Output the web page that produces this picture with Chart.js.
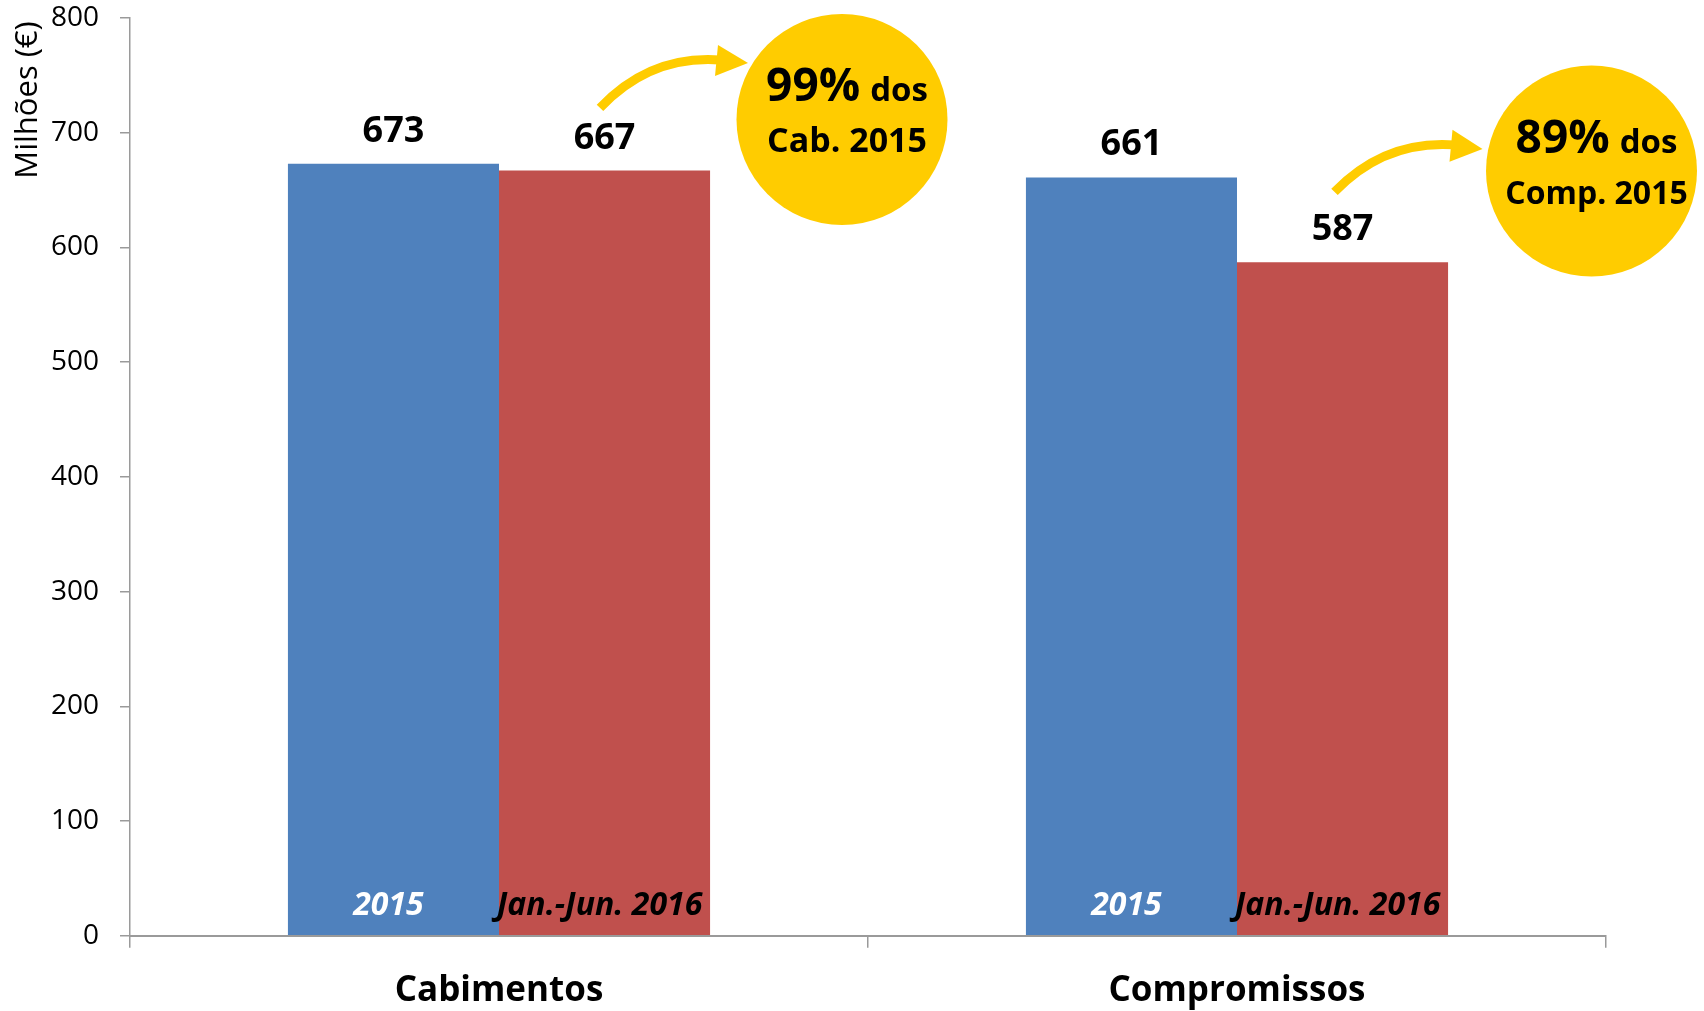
<!DOCTYPE html>
<html>
<head>
<meta charset="utf-8">
<script src="https://cdn.jsdelivr.net/npm/chart.js@4.4.1/dist/chart.umd.min.js"></script>
<style>
html,body{margin:0;padding:0;background:#ffffff;}
#wrap{width:1704px;height:1011px;position:relative;}
</style>
</head>
<body>
<div id="wrap"><canvas id="c" width="1704" height="1011"></canvas></div>
<script>
// ---- Data ----
const categories = ['Cabimentos', 'Compromissos'];
const seriesNames = ['2015', 'Jan.-Jun. 2016'];
const values2015 = [673, 661];
const valuesJanJun2016 = [667, 587];
const yTickValues = [0, 100, 200, 300, 400, 500, 600, 700, 800];
const yAxisTitle = 'Milhões (€)';
const calloutPercent = ['99%', '89%'];
const calloutWord = ['dos', 'dos'];
const calloutRef = ['Cab. 2015', 'Comp. 2015'];

// ---- Styles ----
const FONT = '"Open Sans", "Liberation Sans", sans-serif';
const BLUE = '#4F81BD';
const RED = '#C0504D';
const YELLOW = '#FFCC00';
const AXIS = '#9A9A9A';

// annotation geometry (offset in px from category centre, y in axis units)
const circleGeom = [
  { dx: 343, v: 711.6, r: 105.5 },
  { dx: 354.5, v: 666.7, r: 105.5 }
];
const arrowGeom = [
  { start: [101, 721.6], ctrl: [151, 767.8], end: [219, 763.4], tip: [249, 760.8], bt: [219, 776.5], bb: [216, 749.5] },
  { start: [97.5, 648.4], ctrl: [147.5, 693.8], end: [215.5, 689.4], tip: [245.5, 685.9], bt: [215.5, 702.5], bb: [212.5, 674.6] }
];

const overlay = {
  id: 'overlay',
  afterDatasetsDraw(chart) {
    const ctx = chart.ctx;
    const xs = chart.scales.x, ys = chart.scales.y;
    const P = (i, p) => [xs.getPixelForValue(i) + p[0], ys.getPixelForValue(p[1])];
    ctx.save();

    // value labels above bars and series names inside bars
    chart.data.datasets.forEach((ds, di) => {
      const meta = chart.getDatasetMeta(di);
      meta.data.forEach((bar, i) => {
        ctx.fillStyle = '#000';
        ctx.font = 'bold 36px ' + FONT;
        ctx.textAlign = 'center';
        ctx.textBaseline = 'alphabetic';
        ctx.fillText(String(ds.data[i]), bar.x, bar.y - 22);

        ctx.font = 'italic bold 32px ' + FONT;
        ctx.fillStyle = di === 0 ? '#FFFFFF' : '#000000';
        ctx.fillText(ds.label, bar.x - 5, ys.getPixelForValue(0) - 21);
      });
    });

    // y axis title
    ctx.save();
    ctx.translate(37, chart.chartArea.top + 82);
    ctx.rotate(-Math.PI / 2);
    ctx.fillStyle = '#000';
    ctx.font = '31px ' + FONT;
    ctx.textAlign = 'center';
    ctx.textBaseline = 'alphabetic';
    ctx.fillText(yAxisTitle, 0, 0);
    ctx.restore();

    // arrows
    arrowGeom.forEach((a, i) => {
      const s = P(i, a.start), c = P(i, a.ctrl), e = P(i, a.end);
      const t = P(i, a.tip), bt = P(i, a.bt), bb = P(i, a.bb);
      ctx.strokeStyle = YELLOW;
      ctx.lineWidth = 9;
      ctx.lineCap = 'butt';
      ctx.beginPath();
      ctx.moveTo(s[0], s[1]);
      ctx.quadraticCurveTo(c[0], c[1], e[0] + 2, e[1]);
      ctx.stroke();
      ctx.fillStyle = YELLOW;
      ctx.beginPath();
      ctx.moveTo(bt[0], bt[1]);
      ctx.lineTo(t[0], t[1]);
      ctx.lineTo(bb[0], bb[1]);
      ctx.closePath();
      ctx.fill();
    });

    // circles with text
    circleGeom.forEach((g, i) => {
      const [cx, cy] = P(i, [g.dx, g.v]);
      ctx.fillStyle = YELLOW;
      ctx.beginPath();
      ctx.arc(cx, cy, g.r, 0, Math.PI * 2);
      ctx.fill();

      ctx.fillStyle = '#000';
      ctx.textBaseline = 'alphabetic';
      ctx.textAlign = 'left';
      const bigFont = 'bold 46px ' + FONT;
      const smallFont = 'bold 33px ' + FONT;
      ctx.font = bigFont;
      const w1 = ctx.measureText(calloutPercent[i]).width;
      ctx.font = smallFont;
      const gap = 10;
      const w2 = ctx.measureText(calloutWord[i]).width;
      const total = w1 + gap + w2;
      const tx = cx + 5 - total / 2;
      ctx.font = bigFont;
      ctx.fillText(calloutPercent[i], tx, cy - 18);
      ctx.font = smallFont;
      ctx.fillText(calloutWord[i], tx + w1 + gap, cy - 18);
      ctx.textAlign = 'center';
      ctx.font = 'bold ' + (i === 0 ? 34 : 32) + 'px ' + FONT;
      ctx.fillText(calloutRef[i], cx + 5, cy + 33);
    });

    ctx.restore();
  }
};

new Chart(document.getElementById('c'), {
  type: 'bar',
  data: {
    labels: categories,
    datasets: [
      { label: seriesNames[0], data: values2015, backgroundColor: BLUE, borderWidth: 0 },
      { label: seriesNames[1], data: valuesJanJun2016, backgroundColor: RED, borderWidth: 0 }
    ]
  },
  options: {
    responsive: false,
    animation: false,
    devicePixelRatio: 1,
    layout: { padding: { top: 18, right: 98, bottom: 0, left: 0 } },
    plugins: { legend: { display: false }, tooltip: { enabled: false } },
    datasets: { bar: { barPercentage: 1.0, categoryPercentage: 0.572 } },
    scales: {
      x: {
        afterFit(scale) { scale.height = 75.3; scale.paddingLeft = 0; scale.paddingRight = 0; },
        grid: { display: true, offset: true, drawOnChartArea: false, drawTicks: true, tickLength: 12, color: AXIS, lineWidth: 1.5 },
        border: { display: true, color: AXIS, width: 2 },
        ticks: { color: '#000', font: { family: FONT, size: 35, weight: 'bold' }, padding: 22 }
      },
      y: {
        min: 0,
        max: 800,
        afterBuildTicks(scale) { scale.ticks = yTickValues.map(v => ({ value: v })); },
        afterFit(scale) { scale.width = 130; scale.paddingTop = 0; scale.paddingBottom = 0; },
        grid: { display: true, drawOnChartArea: false, drawTicks: true, tickLength: 10, color: AXIS, lineWidth: 1.5 },
        border: { display: true, color: AXIS, width: 1.5 },
        ticks: { color: '#000', font: { family: FONT, size: 28 }, padding: 21 }
      }
    }
  },
  plugins: [overlay]
});
</script>
</body>
</html>
